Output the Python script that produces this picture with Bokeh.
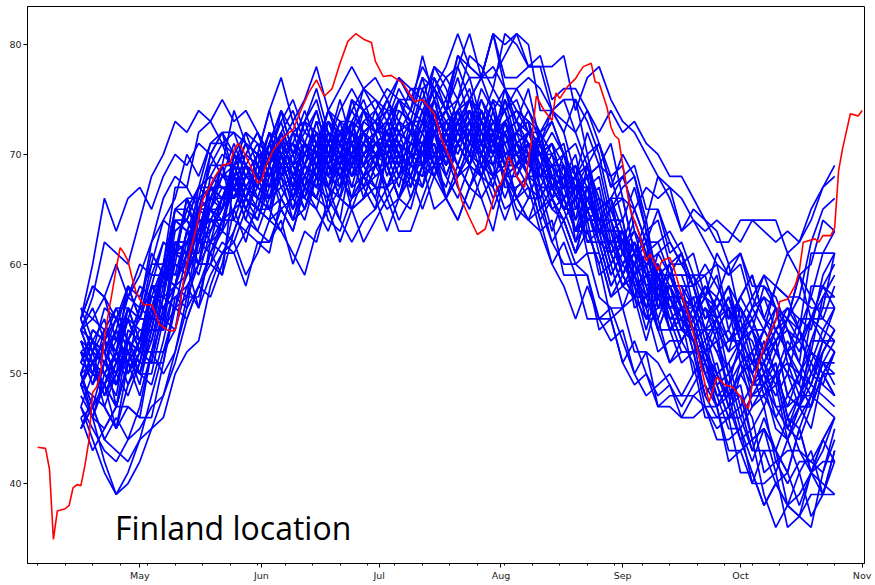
import pandas as pd
from bokeh.plotting import figure
from bokeh.models import Range1d, FixedTicker, DatetimeTickFormatter, Label
from bokeh.embed import file_html
from bokeh.resources import INLINE

# ---------------- data ----------------
# ensemble members: one value every 3 days starting 2021-04-16
member_start = "2021-04-16"
member_step_days = 3
members = [
    [55,60,66,63,66,67,65,68,70,69,71,70,72, 70,72,69,72,69,71,74,71,70,73,73,75,72, 73,70,72,75,74,72,70,73,75,72,74,70,72, 69,69,70,65,67,68,63,60,62,60,56,59,59, 56,52,50,51,53,49,50,51,46,48,50,49,48],
    [47,44,41,39,40,42,45,48,52,56,58,61,63, 65,62,66,66,68,64,67,66,70,68,66,68,69, 67,70,69,73,69,70,68,71,70,67,72,70,68, 68,66,64,61,65,62,61,62,57,55,56,57,55, 50,52,49,46,46,43,46,43,41,45,41,43,46],
    [50,51,53,49,53,56,55,55,61,62,60,66,68, 71,68,68,71,74,70,73,75,71,74,76,74,72, 75,77,75,78,76,78,81,78,77,81,80,81,78, 78,74,75,75,73,70,65,67,68,63,64,60,61, 58,54,57,55,56,52,54,52,55,53,51,54,56],
    [49,52,51,54,51,53,53,58,60,59,65,66,65, 69,68,67,66,71,69,70,73,69,68,71,73,72, 72,75,75,74,76,74,79,77,77,81,77,77,78, 78,78,79,74,77,78,75,73,72,70,68,67,66, 64,62,60,59,60,56,57,56,52,53,55,54,53],
    [53,50,54,53,56,53,58,58,65,65,63,67,69, 69,72,71,70,71,69,73,72,71,75,71,72,73, 75,72,74,77,76,74,72,75,77,74,76,72,74, 71,74,72,75,70,71,67,70,68,64,68,66,63, 65,64,62,62,64,64,64,64,61,62,65,67,68],
    [51,50,49,47,53,52,55,59,58,59,62,66,66, 67,68,70,67,70,72,69,68,71,70,68,72,73, 72,69,73,73,75,71,74,72,76,74,71,72,73, 72,73,70,71,68,69,71,66,65,67,66,67,63, 64,63,64,63,62,64,63,62,63,62,64,67,69],
    [50,47,49,51,51,50,50,55,60,59,62,61,64, 68,65,64,67,70,66,68,70,66,68,70,68,66, 70,69,68,67,72,70,71,73,69,68,70,71,70, 65,66,63,60,59,55,56,53,50,52,47,47,46, 48,47,47,42,43,44,39,36,38,37,36,41,44],
    [54,51,50,52,56,53,57,60,59,63,65,65,64, 65,68,67,71,67,68,66,70,69,66,72,71,69, 69,71,68,71,68,70,73,69,68,71,70,71,68, 67,63,66,63,64,59,60,56,59,56,52,53,53, 51,46,46,47,44,41,38,40,41,38,41,39,43],
    [45,47,44,43,42,44,45,46,50,52,53,58,61, 63,66,65,64,65,63,67,66,65,69,65,66,67, 65,66,68,65,68,70,67,65,68,67,64,67,68, 64,66,64,66,61,61,57,59,57,53,57,55,52, 52,53,49,50,46,48,50,46,44,47,47,50,48],
    [50,53,52,50,52,51,56,56,58,63,60,62,63, 62,59,61,64,63,61,59,63,65,62,65,62,64, 66,63,63,66,69,66,68,69,66,68,69,66,64, 67,65,64,61,65,62,62,63,58,56,57,58,56, 55,51,54,52,53,49,51,49,52,50,48,51,53],
    [54,56,53,55,53,56,61,59,61,66,66,70,68, 69,66,70,70,72,68,71,70,74,72,70,72,73, 70,73,72,71,72,70,74,72,71,75,70,70,71, 69,65,66,67,65,62,58,60,61,57,58,54,55, 54,56,54,56,51,52,49,52,50,47,53,53,52],
    [49,46,45,47,51,48,52,55,54,58,60,60,59, 68,67,66,65,70,68,69,72,68,67,70,72,71, 70,73,72,76,72,73,71,74,73,70,75,73,71, 69,71,69,66,66,63,65,62,60,63,57,57,57, 59,57,55,52,56,54,54,56,51,50,53,56,56],
    [50,53,52,55,52,54,54,59,61,60,66,67,66, 69,66,68,71,70,68,66,70,72,69,72,69,71, 69,70,72,69,72,74,71,69,72,71,68,71,72, 71,67,65,65,67,62,62,62,56,57,57,54,51, 52,52,48,48,44,45,47,42,40,42,42,44,42],
    [54,55,57,53,57,60,59,59,65,66,64,70,72, 68,71,70,74,70,71,69,73,72,69,75,74,72, 73,70,69,72,75,71,73,74,70,72,73,70,68, 71,69,67,64,69,66,65,66,61,60,61,62,60, 58,60,58,56,56,54,58,56,55,59,55,58,60],
    [49,46,50,49,52,49,54,54,61,61,59,63,65, 67,69,66,69,66,68,71,68,67,70,70,72,69, 71,70,69,68,73,71,72,74,70,69,71,72,71, 67,69,67,69,64,64,60,62,60,56,60,58,55, 57,53,55,56,54,53,50,53,54,52,55,53,56],
    [50,46,42,39,41,44,48,52,56,59,62,63,65, 69,66,65,68,71,67,69,71,67,69,71,69,67, 71,68,70,73,72,70,68,71,73,70,72,68,70, 70,66,69,67,68,63,64,61,64,61,57,58,58, 54,54,55,50,52,54,50,48,50,49,47,52,54],
    [54,53,52,50,56,55,58,62,61,62,65,69,69, 66,69,68,67,68,66,70,69,68,72,68,69,70, 71,68,72,72,74,70,73,71,75,73,70,71,72, 70,71,67,68,64,65,66,61,59,61,59,60,56, 54,56,55,57,54,56,54,58,57,57,62,65,66],
    [46,43,45,47,47,46,46,51,56,55,58,57,60, 65,66,68,65,68,70,67,66,69,68,66,70,71, 71,68,67,70,73,69,71,72,68,70,71,68,66, 69,67,65,62,66,63,62,63,58,56,57,58,56, 52,48,50,48,48,44,45,43,46,43,41,44,46],
    [55,58,57,55,57,56,62,64,66,70,68,71,72, 72,71,70,69,74,72,73,76,72,71,74,76,75, 73,75,72,75,72,74,77,73,72,75,74,75,72, 70,70,71,66,68,69,64,61,63,61,57,60,60, 58,54,52,53,55,51,52,53,48,50,52,51,50],
    [49,51,48,50,48,51,56,54,56,61,61,65,63, 70,67,66,69,72,68,70,72,68,70,72,70,68, 69,72,71,70,71,69,73,71,70,74,69,69,70, 70,66,67,68,66,63,59,61,62,58,59,55,56, 53,51,49,46,50,48,48,50,45,44,47,50,50],
    [49,52,51,54,50,52,51,56,57,56,62,62,61, 61,58,62,62,64,60,63,62,66,64,62,64,65, 67,64,66,69,68,66,64,67,69,66,68,64,66, 66,62,60,60,61,57,56,56,52,52,51,49,47, 49,51,48,45,45,42,45,43,41,45,41,44,46],
    [52,53,55,51,55,58,57,57,63,64,62,68,70, 69,71,68,71,68,70,73,70,69,72,72,74,71, 71,74,73,77,73,74,72,75,74,71,76,74,72, 71,67,70,68,69,64,65,62,65,62,58,59,59, 59,55,56,58,56,54,52,55,56,54,57,55,58],
    [52,49,51,53,53,52,52,57,62,61,64,63,66, 66,67,69,66,69,71,68,67,70,69,67,71,72, 69,66,69,69,71,66,69,67,70,68,65,66,67, 63,64,59,59,55,55,55,51,49,50,48,49,46, 46,47,45,46,41,41,38,40,38,37,41,42,42],
    [49,48,47,45,51,50,53,57,56,57,60,64,64, 65,68,67,66,67,65,69,68,67,71,67,68,69, 72,69,68,71,74,70,72,73,69,71,72,69,67, 66,68,66,68,63,63,59,61,59,55,59,57,54, 53,54,50,51,47,49,51,47,45,48,48,51,49],
    [55,52,56,55,58,55,60,60,67,67,65,69,71, 70,67,69,72,71,69,67,71,73,70,73,70,72, 68,71,70,74,70,71,69,72,71,68,73,71,69, 68,68,69,64,66,67,62,59,61,59,55,58,58, 56,54,52,49,53,51,51,53,48,47,50,53,53],
    [53,50,49,51,55,52,56,59,58,62,64,64,63, 69,70,72,69,72,74,71,70,73,72,70,74,75, 74,77,76,76,77,75,79,78,77,81,76,76,77, 76,74,72,68,72,69,68,69,63,61,62,63,61, 56,58,56,58,53,54,51,54,52,49,55,55,54],
    [45,47,44,46,44,47,52,50,52,57,57,61,59, 63,66,65,69,65,66,64,68,67,64,70,69,67, 67,68,70,67,70,72,69,67,70,69,66,69,70, 66,68,66,63,63,60,62,59,57,60,54,54,54, 53,48,46,46,47,43,43,43,38,39,41,40,39],
    [55,58,57,60,57,59,62,66,68,67,72,73,71, 72,69,68,71,74,70,72,74,70,72,74,72,70, 72,69,71,74,73,71,69,72,74,71,73,69,71, 70,71,67,68,64,65,66,61,59,61,59,60,56, 57,57,59,54,57,59,55,54,56,55,54,59,61],
    [50,47,51,50,53,50,55,55,62,62,60,64,66, 67,70,69,68,69,67,71,70,69,73,69,70,71, 70,72,69,72,69,71,74,70,69,72,71,72,69, 72,68,66,67,69,64,64,64,59,60,60,57,54, 56,52,53,54,52,50,47,50,51,48,51,49,52],
    [51,54,53,51,53,52,58,58,60,66,62,65,67, 67,64,68,68,70,66,69,68,72,70,68,70,71, 72,71,70,69,74,72,73,75,71,70,72,73,72, 71,67,68,69,67,64,60,62,63,59,60,56,57, 56,52,55,53,54,50,52,50,53,51,49,52,54],
    [55,52,54,56,56,55,55,60,65,64,67,66,69, 74,71,70,74,77,73,75,78,74,76,78,76,74, 76,75,73,72,77,74,75,77,73,71,73,74,73, 68,70,68,70,65,65,61,63,61,57,61,59,56, 56,58,56,53,53,51,54,52,50,54,50,52,54],
    [46,47,49,45,49,52,51,51,57,58,56,62,64, 67,66,65,64,69,67,68,71,67,66,69,71,70, 69,66,70,70,72,68,71,69,73,71,68,69,70, 67,67,68,63,65,66,61,58,60,58,54,57,57, 54,50,48,49,51,47,48,49,44,46,48,47,46],
    [52,51,50,48,54,53,56,60,59,60,63,67,67, 66,69,68,72,68,69,67,71,70,67,73,72,70, 70,71,73,70,73,75,72,70,73,72,69,72,73, 70,72,70,67,67,64,66,63,61,64,58,58,58, 58,59,55,57,53,55,57,54,52,55,55,58,56],
    [51,53,50,52,50,53,58,56,58,63,63,67,65, 70,69,68,67,72,70,71,74,70,69,72,74,73, 71,75,74,79,75,77,75,79,78,76,81,80,78, 79,75,76,76,74,71,67,68,69,65,65,61,62, 59,59,60,55,57,59,55,53,55,54,52,57,59],
    [47,50,49,52,49,51,51,56,58,57,63,64,63, 68,65,67,70,69,67,65,69,71,68,71,68,70, 70,67,71,71,73,69,72,70,74,72,69,70,71, 68,69,65,66,62,63,64,59,57,59,57,58,54, 54,52,50,47,51,49,49,51,46,45,48,51,51],
    [56,53,52,54,58,55,59,62,61,65,67,67,66, 66,69,67,66,69,67,71,69,67,70,69,72,70, 67,69,71,71,69,73,72,70,74,71,69,69,72, 70,68,66,63,67,64,63,64,59,57,58,59,57, 54,56,53,50,52,50,53,50,47,50,49,53,52],
    [47,45,43,42,44,45,47,48,51,55,58,60,62, 61,63,65,65,63,67,66,65,69,66,65,66,69, 69,66,68,71,70,68,66,69,71,68,70,66,68, 64,60,62,59,59,54,55,51,53,50,47,48,48, 48,49,47,43,43,40,43,40,38,41,37,39,42],
    [54,51,53,55,55,54,54,59,64,63,66,65,68, 68,69,71,68,71,73,70,69,72,71,69,73,74, 71,73,70,73,70,72,75,71,70,73,72,73,70, 71,67,65,66,68,63,63,63,58,59,59,56,53, 55,57,56,58,54,55,52,56,54,51,58,58,57],
    [52,49,53,52,55,52,57,57,64,64,62,66,68, 67,65,68,67,70,68,65,68,70,71,70,68,71, 72,71,67,71,72,69,71,74,72,69,73,70,69, 68,69,69,62,64,64,61,58,57,57,59,55,55, 53,50,47,48,49,44,45,41,44,41,43,39,43],
    [53,52,48,51,53,51,55,60,61,60,65,65,65, 70,69,67,71,73,69,71,69,73,71,73,69,72, 74,74,73,73,78,77,78,81,77,77,79,81,80, 74,74,75,72,69,71,68,64,67,63,59,59,61, 58,55,57,55,57,55,52,54,55,57,56,56,61],
    [54,57,62,61,60,64,68,70,73,72,74,73,75, 73,74,72,70,71,71,70,69,70,71,75,72,73, 74,71,70,73,76,72,74,75,71,73,74,71,69, 70,68,65,67,68,63,63,59,62,59,59,54,56, 52,52,53,48,50,52,48,46,48,47,45,50,52],
    [45,48,47,45,47,46,52,52,54,60,56,59,61, 62,65,63,62,65,63,67,65,63,66,65,68,66, 63,66,65,69,65,66,64,67,66,63,68,66,64, 65,62,64,61,63,60,55,56,57,57,54,51,53, 55,51,49,50,52,48,49,50,45,47,49,48,47],
    [49,51,53,52,51,56,57,57,64,63,62,65,69, 64,63,62,61,66,64,65,68,64,63,66,68,67, 67,70,69,68,69,67,71,69,68,72,67,67,68, 72,70,66,68,69,65,66,68,65,62,65,62,60, 61,57,61,59,61,57,59,58,61,59,57,61,63],
    [49,51,52,47,51,53,54,54,58,61,65,64,66, 66,68,70,70,68,72,71,70,74,71,70,71,74, 72,70,66,69,70,66,68,70,68,65,68,65,64, 63,60,58,55,58,55,53,54,50,48,49,50,48, 50,51,47,49,45,47,49,45,44,47,47,50,48],
    [51,54,53,56,53,55,55,60,62,61,67,68,67, 67,66,64,68,70,66,68,66,70,68,70,66,69, 73,76,74,73,76,74,78,75,73,76,74,76,74, 72,67,67,67,65,61,57,58,59,55,55,51,52, 52,47,44,44,45,40,40,41,36,37,39,39,39],
    [52,51,49,52,55,52,56,55,62,62,64,62,66, 69,70,72,70,73,75,72,71,74,73,72,76,77, 75,73,76,75,78,76,73,75,77,78,76,73,76, 71,73,70,67,67,63,65,62,60,62,56,56,56, 53,54,54,48,50,51,49,47,47,48,52,50,52],
    [48,46,49,47,51,50,49,53,58,61,60,60,64, 67,64,63,66,69,65,67,69,65,67,69,67,65, 70,72,73,69,72,73,72,70,71,72,75,71,72, 72,74,73,72,74,72,74,72,73,71,70,68,68, 66,64,63,60,61,58,58,57,54,53,55,57,57],
    [56,55,54,52,58,57,60,64,63,64,67,71,71, 68,67,65,69,71,67,69,67,71,69,71,67,70, 66,68,70,70,68,72,71,69,73,70,68,68,71, 65,67,65,67,62,62,58,60,58,54,58,56,53, 55,57,54,56,53,56,59,56,55,59,60,64,63],
    [52,51,47,50,52,50,54,59,60,59,64,64,64, 64,67,66,65,66,64,68,67,66,70,66,67,68, 69,66,70,70,72,68,71,69,73,71,68,69,70, 72,68,67,68,70,65,66,66,61,62,62,59,56, 54,50,51,47,48,46,41,42,43,43,42,41,45],
    [50,53,51,49,53,52,58,57,58,63,62,67,66, 68,66,69,68,71,69,66,69,71,72,71,69,72, 73,72,71,70,75,73,74,76,72,71,73,74,73, 67,67,68,63,65,66,61,58,60,58,54,57,57, 55,58,57,60,55,57,55,58,57,54,61,61,61],
]

# observed series (red)
obs_dates = [
    "2021-04-05", "2021-04-07", "2021-04-08", "2021-04-09", "2021-04-10", "2021-04-12", "2021-04-13",
    "2021-04-14", "2021-04-15", "2021-04-16", "2021-04-17", "2021-04-18", "2021-04-19", "2021-04-20",
    "2021-04-21", "2021-04-22", "2021-04-23", "2021-04-24", "2021-04-25", "2021-04-26", "2021-04-27",
    "2021-04-28", "2021-04-29", "2021-04-30", "2021-05-01", "2021-05-02", "2021-05-04", "2021-05-05",
    "2021-05-06", "2021-05-08", "2021-05-09", "2021-05-10", "2021-05-11", "2021-05-12", "2021-05-13",
    "2021-05-15", "2021-05-16", "2021-05-17", "2021-05-19", "2021-05-20", "2021-05-22", "2021-05-24",
    "2021-05-25", "2021-05-26", "2021-05-27", "2021-05-29", "2021-05-31", "2021-06-01", "2021-06-02",
    "2021-06-04", "2021-06-06", "2021-06-08", "2021-06-09", "2021-06-11", "2021-06-13", "2021-06-15",
    "2021-06-17", "2021-06-19", "2021-06-21", "2021-06-23", "2021-06-25", "2021-06-27", "2021-06-29",
    "2021-06-30", "2021-07-02", "2021-07-04", "2021-07-07", "2021-07-10", "2021-07-12", "2021-07-15",
    "2021-07-17", "2021-07-20", "2021-07-22", "2021-07-24", "2021-07-26", "2021-07-28", "2021-07-30",
    "2021-07-31", "2021-08-01", "2021-08-03", "2021-08-05", "2021-08-07", "2021-08-09", "2021-08-10",
    "2021-08-12", "2021-08-14", "2021-08-15", "2021-08-16", "2021-08-18", "2021-08-20", "2021-08-21",
    "2021-08-22", "2021-08-24", "2021-08-25", "2021-08-26", "2021-08-28", "2021-08-29", "2021-08-30",
    "2021-08-31", "2021-09-01", "2021-09-03", "2021-09-05", "2021-09-07", "2021-09-08", "2021-09-10",
    "2021-09-11", "2021-09-13", "2021-09-14", "2021-09-16", "2021-09-18", "2021-09-20", "2021-09-22",
    "2021-09-23", "2021-09-25", "2021-09-27", "2021-09-29", "2021-10-01", "2021-10-02", "2021-10-03",
    "2021-10-04", "2021-10-06", "2021-10-08", "2021-10-10", "2021-10-11", "2021-10-13", "2021-10-15",
    "2021-10-16", "2021-10-17", "2021-10-20", "2021-10-21", "2021-10-22", "2021-10-24", "2021-10-25",
    "2021-10-26", "2021-10-27", "2021-10-29", "2021-10-30", "2021-10-31", "2021-11-01",
]
obs_values = [
    43.3, 43.2, 41.3, 34.9, 37.5, 37.7, 38.0,
    39.6, 39.9, 39.8, 41.6, 43.8, 48.3, 48.8,
    50.0, 53.2, 55.5, 57.5, 59.6, 61.5, 61.0,
    60.3, 58.8, 57.5, 56.8, 56.3, 56.3, 55.5,
    54.5, 54.0, 53.9, 54.0, 55.5, 58.2, 60.0,
    62.7, 64.2, 65.8, 67.2, 67.9, 69.0, 69.2,
    70.4, 71.0, 70.6, 69.1, 67.4, 67.6, 68.8,
    70.4, 71.3, 72.0, 72.2, 74.0, 75.6, 76.8,
    75.3, 76.0, 78.3, 80.3, 81.0, 80.5, 80.2,
    78.5, 77.1, 77.2, 76.5, 74.8, 75.0, 73.7,
    71.3, 68.8, 65.8, 64.2, 62.7, 63.2, 65.8,
    67.0, 67.3, 69.8, 68.0, 67.0, 71.9, 75.3,
    74.0, 73.1, 75.6, 75.1, 76.2, 76.9, 77.5,
    78.0, 78.3, 76.6, 76.5, 74.3, 72.5, 71.7,
    71.4, 69.1, 64.9, 63.0, 60.3, 60.9, 59.4,
    60.3, 60.6, 59.7, 57.2, 55.1, 52.3, 49.0,
    47.4, 49.7, 49.0, 48.8, 47.9, 47.3, 46.8,
    49.0, 51.4, 53.4, 54.8, 56.6, 56.8, 58.1,
    59.4, 62.0, 62.3, 62.0, 62.6, 62.6, 63.3,
    68.5, 70.5, 73.7, 73.6, 73.5, 74.0,
]

month_ticks = ["2021-05-01", "2021-06-01", "2021-07-01", "2021-08-01",
               "2021-09-01", "2021-10-01", "2021-11-01"]
y_ticks = [40, 50, 60, 70, 80]
title_text = "Finland location"


def ms(t):
    return pd.Timestamp(t).value / 1e6


# ---------------- figure ----------------
x_start = pd.Timestamp("2021-05-01") - pd.Timedelta(days=28.6)
x_end = pd.Timestamp("2021-11-01") + pd.Timedelta(days=0.6)

p = figure(width=872, height=584, x_axis_type="datetime",
           x_range=Range1d(ms(x_start), ms(x_end)),
           y_range=Range1d(32.71, 83.48),
           output_backend="svg", toolbar_location=None,
           min_border_left=27, min_border_right=8,
           min_border_top=6, min_border_bottom=21)

p.background_fill_color = "white"
p.border_fill_color = "white"
p.outline_line_color = "black"
p.outline_line_width = 1
p.outline_line_alpha = 1.0
p.xgrid.visible = False
p.ygrid.visible = False

n_pts = max(len(m) for m in members)
member_dates = pd.date_range(member_start, periods=n_pts, freq=f"{member_step_days}D")
member_ms = [ms(d) for d in member_dates]
xs = [member_ms[:len(m)] for m in members]
ys = [m[:len(member_ms)] for m in members]
p.multi_line(xs=xs, ys=ys, line_color="#0000ff", line_width=1.7)

p.line(x=[ms(d) for d in obs_dates], y=obs_values, line_color="#ff0000", line_width=1.6)

mondays = pd.date_range("2021-04-05", "2021-11-01", freq="7D")
p.xaxis.ticker = FixedTicker(ticks=[ms(t) for t in month_ticks],
                             minor_ticks=[ms(t) for t in mondays])
p.xaxis.formatter = DatetimeTickFormatter(
    milliseconds="%b", seconds="%b", minsec="%b", minutes="%b", hourmin="%b",
    hours="%b", days="%b", months="%b", years="%b", context=None)
p.yaxis.ticker = FixedTicker(ticks=y_ticks, minor_ticks=[])

for ax in (p.xaxis[0], p.yaxis[0]):
    ax.axis_line_color = "black"
    ax.major_tick_line_color = "black"
    ax.minor_tick_line_color = "black"
    ax.major_tick_out = 4
    ax.major_tick_in = 0
    ax.minor_tick_out = 2
    ax.minor_tick_in = 0
    ax.major_label_standoff = 2
    ax.major_label_text_font = "DejaVu Sans"
    ax.major_label_text_font_size = "9.5px"
    ax.major_label_text_color = "#222222"

label = Label(x=ms("2021-04-24 16:00"), y=35.95, text=title_text,
              text_font="Open Sans", text_font_size="32px",
              text_color="black", text_baseline="alphabetic")
p.add_layout(label)

open("out.html", "w").write(file_html(p, INLINE))
